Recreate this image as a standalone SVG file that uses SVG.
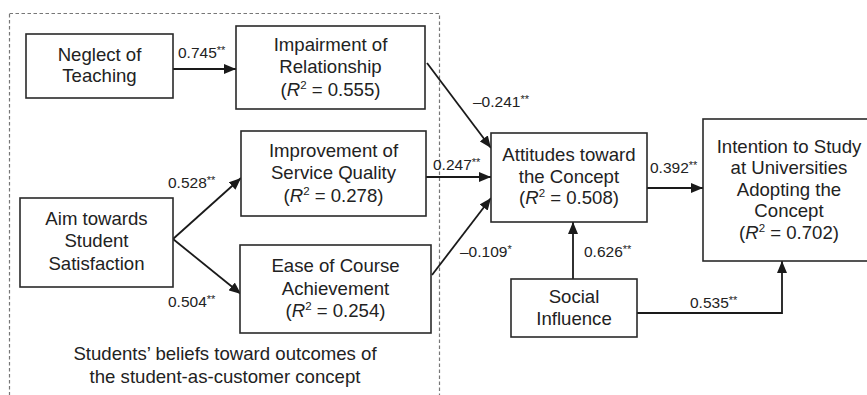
<svg xmlns="http://www.w3.org/2000/svg" width="867" height="395" viewBox="0 0 867 395">
<style>
.box{fill:#fff;stroke:#2a2a2a;stroke-width:1.6}
.t{font-family:"Liberation Sans",Arial,sans-serif;font-size:18.6px;fill:#222;text-anchor:middle}
.l{font-family:"Liberation Sans",Arial,sans-serif;font-size:15.5px;fill:#222}
.s{font-size:11px}
.c{fill:none;stroke:#1a1a1a;stroke-width:1.8}
</style>
<defs>
<marker id="ah" viewBox="0 0 12 10" refX="12" refY="5" markerWidth="12" markerHeight="10" markerUnits="userSpaceOnUse" orient="auto">
<path d="M0,0 L12,5 L0,10 Z" fill="#1a1a1a"/>
</marker>
</defs>
<rect x="9.5" y="13.5" width="430" height="400" fill="none" stroke="#777" stroke-width="1.2" stroke-dasharray="3.5,2.5"/>
<g id="connectors">
<line class="c" x1="173" y1="69" x2="236" y2="69" marker-end="url(#ah)"/>
<line class="c" x1="427" y1="63" x2="491" y2="148" marker-end="url(#ah)"/>
<line class="c" x1="426" y1="177" x2="491" y2="177" marker-end="url(#ah)"/>
<line class="c" x1="432" y1="275" x2="491" y2="198" marker-end="url(#ah)"/>
<line class="c" x1="173" y1="239" x2="241" y2="178" marker-end="url(#ah)"/>
<line class="c" x1="173" y1="239" x2="241" y2="294" marker-end="url(#ah)"/>
<line class="c" x1="647" y1="188" x2="703" y2="188" marker-end="url(#ah)"/>
<line class="c" x1="573" y1="279" x2="573" y2="222" marker-end="url(#ah)"/>
<polyline class="c" points="637,313 782,313 782,261" marker-end="url(#ah)"/>
<text class="l" x="178" y="58">0.745<tspan class="s" dy="-4">**</tspan></text>
<text class="l" x="473" y="107">–0.241<tspan class="s" dy="-4">**</tspan></text>
<text class="l" x="433" y="170">0.247<tspan class="s" dy="-4">**</tspan></text>
<text class="l" x="460" y="257">–0.109<tspan class="s" dy="-4">*</tspan></text>
<text class="l" x="168" y="188">0.528<tspan class="s" dy="-4">**</tspan></text>
<text class="l" x="168" y="307">0.504<tspan class="s" dy="-4">**</tspan></text>
<text class="l" x="650" y="173">0.392<tspan class="s" dy="-4">**</tspan></text>
<text class="l" x="584" y="257">0.626<tspan class="s" dy="-4">**</tspan></text>
<text class="l" x="690" y="308">0.535<tspan class="s" dy="-4">**</tspan></text>
</g>
<g id="neglect">
<rect class="box" x="26" y="34" width="147" height="64"/>
<text class="t" x="99.5" y="61">Neglect of</text>
<text class="t" x="99.5" y="82">Teaching</text>
</g>
<g id="impairment">
<rect class="box" x="236" y="26" width="189" height="83"/>
<text class="t" x="330.5" y="51">Impairment of</text>
<text class="t" x="330.5" y="73">Relationship</text>
<text class="t" x="330.5" y="96">(<tspan font-style="italic">R</tspan><tspan font-size="11.5" dy="-7">2</tspan><tspan dy="7"> = 0.555)</tspan></text>
</g>
<g id="improvement">
<rect class="box" x="241" y="131" width="185" height="85"/>
<text class="t" x="333.5" y="157">Improvement of</text>
<text class="t" x="333.5" y="179">Service Quality</text>
<text class="t" x="333.5" y="202">(<tspan font-style="italic">R</tspan><tspan font-size="11.5" dy="-7">2</tspan><tspan dy="7"> = 0.278)</tspan></text>
</g>
<g id="aim">
<rect class="box" x="20" y="198" width="153" height="89"/>
<text class="t" x="96.5" y="225">Aim towards</text>
<text class="t" x="96.5" y="247">Student</text>
<text class="t" x="96.5" y="270">Satisfaction</text>
</g>
<g id="ease">
<rect class="box" x="240" y="245" width="191" height="88"/>
<text class="t" x="335.5" y="272">Ease of Course</text>
<text class="t" x="335.5" y="295">Achievement</text>
<text class="t" x="335.5" y="317">(<tspan font-style="italic">R</tspan><tspan font-size="11.5" dy="-7">2</tspan><tspan dy="7"> = 0.254)</tspan></text>
</g>
<g id="caption">
<text class="t" x="225" y="360">Students’ beliefs toward outcomes of</text>
<text class="t" x="225" y="383">the student-as-customer concept</text>
</g>
<g id="attitudes">
<rect class="box" x="491" y="133" width="156" height="89"/>
<text class="t" x="569" y="161">Attitudes toward</text>
<text class="t" x="569" y="183">the Concept</text>
<text class="t" x="569" y="204">(<tspan font-style="italic">R</tspan><tspan font-size="11.5" dy="-7">2</tspan><tspan dy="7"> = 0.508)</tspan></text>
</g>
<g id="intention">
<rect class="box" x="703" y="119" width="180" height="142"/>
<text class="t" x="789" y="153">Intention to Study</text>
<text class="t" x="789" y="174">at Universities</text>
<text class="t" x="789" y="196">Adopting the</text>
<text class="t" x="789" y="217">Concept</text>
<text class="t" x="789" y="239">(<tspan font-style="italic">R</tspan><tspan font-size="11.5" dy="-7">2</tspan><tspan dy="7"> = 0.702)</tspan></text>
</g>
<g id="social">
<rect class="box" x="511" y="279" width="126" height="58"/>
<text class="t" x="574" y="303">Social</text>
<text class="t" x="574" y="325">Influence</text>
</g>
</svg>
